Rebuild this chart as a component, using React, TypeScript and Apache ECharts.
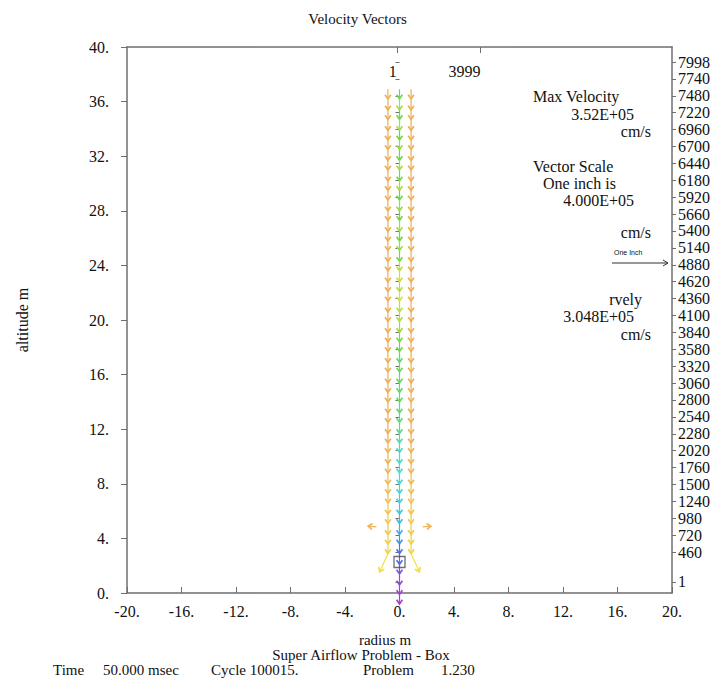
import { useEffect, useRef } from 'react';
import * as echarts from 'echarts';

const FONT = '"Liberation Serif", "Times New Roman", serif';

// Axis ticks
const leftTickInterval = 4;
const bottomTickInterval = 4;
const rightTickValues = [1, 460, 720, 980, 1240, 1500, 1760, 2020, 2280, 2540, 2800, 3060, 3320, 3580, 3840, 4100, 4360, 4620, 4880, 5140, 5400, 5660, 5920, 6180, 6440, 6700, 6960, 7220, 7480, 7740, 7998];
const topTickPositions = [-0.2, 5.95];
const topTickLabels = ['1', '3999'];

// Vector grid rows (altitude, m)
const rowAltitudes = [36.9, 36.2, 35.4, 34.7, 33.9, 33.2, 32.5, 31.7, 31.0, 30.2, 29.5, 28.8, 28.0, 27.3, 26.5, 25.8, 25.1, 24.3, 23.6, 22.8, 22.1, 21.4, 20.6, 19.9, 19.1, 18.4, 17.7, 16.9, 16.2, 15.4, 14.7, 14.0, 13.2, 12.5, 11.7, 11.0, 10.3, 9.5, 8.8, 8.0, 7.3, 6.6, 5.8, 5.1, 4.3, 3.6];
// Column radii (m)
const leftColumnX = -0.85;
const centerColumnX = 0;
const rightColumnX = 0.85;
// speeds (1e5 cm/s) per row
const centerSpeeds = [1.9, 1.65, 1.9, 1.65, 1.9, 1.7, 1.9, 1.65, 1.85, 1.65, 1.9, 1.7, 1.9, 1.65, 1.9, 1.7, 1.85, 1.55, 1.5, 1.6, 1.45, 1.55, 1.6, 1.7, 1.85, 1.9, 2.0, 1.95, 2.0, 2.05, 2.0, 2.1, 2.1, 2.15, 2.3, 2.35, 2.4, 2.4, 2.45, 2.45, 2.5, 2.55, 2.6, 2.65, 2.8, 2.95];
const sideSpeeds = [0.85, 0.85, 0.85, 0.85, 0.85, 0.85, 0.85, 0.85, 0.85, 0.85, 0.85, 0.85, 0.85, 0.85, 0.85, 0.85, 0.85, 0.85, 0.85, 0.85, 0.85, 0.85, 0.85, 0.85, 0.85, 0.85, 0.85, 0.85, 0.85, 0.85, 0.85, 0.85, 0.85, 0.85, 0.85, 0.88, 0.9, 0.9, 0.95, 1.0, 1.0, 1.05, 1.1, 1.1, 1.15, 1.2];
// center column continues below the grid rows
const centerTailAltitudes = [2.9, 2.1, 1.4, 0.6, -0.1, -0.8];
const centerTailSpeeds = [3.0, 3.3, 3.45, 3.5, 3.52];
const sideTailAltitude = 2.9;
// splaying vectors near the ground: [x, y, dx, dy, speed]
const extraVectors = [
  [-0.85, 2.9, -0.6, -1.35, 1.35],
  [0.85, 2.9, 0.6, -1.35, 1.35],
  [-1.7, 4.85, -0.6, 0.05, 0.9],
  [1.7, 4.85, 0.6, 0.05, 0.9],
];
// probe box
const probePoints = [[0, 2.27]];

function columnVectors(x: number, nodes: number[], speeds: number[]) {
  const out: number[][] = [];
  for (let i = 0; i < speeds.length; i++) {
    out.push([x, nodes[i], 0, nodes[i + 1] - nodes[i], speeds[i]]);
  }
  return out;
}

export default function App() {
  const ref = useRef<HTMLDivElement>(null);
  useEffect(() => {
    const chart = echarts.init(ref.current!, null, { renderer: 'svg' });
    const centerNodes = rowAltitudes.concat(centerTailAltitudes);
    const sideNodes = rowAltitudes.concat([sideTailAltitude]);
    const vectors = [
      ...columnVectors(leftColumnX, sideNodes, sideSpeeds),
      ...columnVectors(rightColumnX, sideNodes, sideSpeeds),
      ...columnVectors(centerColumnX, centerNodes, centerSpeeds.concat(centerTailSpeeds)),
      ...extraVectors,
    ];
    const axisLine = { show: true, onZero: false, lineStyle: { color: '#6f6f6f', width: 1.5 } };
    const labelStyle = { fontFamily: FONT, fontSize: 16, color: '#111' };
    const textEl = (text: string, x: number, y: number, align: string, size = 16, family = FONT) => ({
      type: 'text', x, y, silent: true,
      style: { text, fill: '#111', fontFamily: family, fontSize: size, textAlign: align, textVerticalAlign: 'middle' },
    });
    const option: any = {
      animation: false,
      backgroundColor: '#fff',
      title: {
        text: 'Velocity Vectors', left: 'center', top: 6,
        textStyle: { fontFamily: FONT, fontSize: 15, fontWeight: 'normal', color: '#111' },
      },
      grid: { left: 127, right: 43, top: 47, bottom: 89 },
      xAxis: [
        {
          type: 'value', min: -20, max: 20, interval: bottomTickInterval, position: 'bottom',
          axisLine, splitLine: { show: false },
          axisTick: { inside: true, length: 6, lineStyle: { color: '#6f6f6f' } },
          axisLabel: { ...labelStyle, margin: 10, formatter: (v: number) => `${v}.` },
          name: 'radius m', nameLocation: 'middle', nameGap: 39,
          nameTextStyle: { fontFamily: FONT, fontSize: 15, color: '#111', padding: [0, 29, 0, 0] },
        },
        {
          type: 'value', min: -20, max: 20, position: 'top',
          axisLine, splitLine: { show: false },
          axisTick: { inside: true, length: 6, customValues: topTickPositions, lineStyle: { color: '#6f6f6f' } },
          axisLabel: {
            ...labelStyle, inside: true, margin: 16, align: 'right', customValues: topTickPositions,
            formatter: (v: number) => {
              let best = 0;
              topTickPositions.forEach((p, i) => { if (Math.abs(p - v) < Math.abs(topTickPositions[best] - v)) best = i; });
              return topTickLabels[best];
            },
          },
        },
      ],
      yAxis: [
        {
          type: 'value', min: 0, max: 40, interval: leftTickInterval, position: 'left',
          axisLine, splitLine: { show: false },
          axisTick: { inside: false, length: 6, lineStyle: { color: '#6f6f6f' } },
          axisLabel: { ...labelStyle, margin: 18, formatter: (v: number) => `${v}.` },
          name: 'altitude m', nameLocation: 'middle', nameGap: 97, nameRotate: 90,
          nameTextStyle: { fontFamily: FONT, fontSize: 16, color: '#111' },
        },
        {
          type: 'value', min: -170, max: 8230, position: 'right',
          axisLine, splitLine: { show: false },
          axisTick: { inside: false, length: 4, customValues: rightTickValues, lineStyle: { color: '#6f6f6f' } },
          axisLabel: { ...labelStyle, margin: 6, customValues: rightTickValues, formatter: (v: number) => `${v}` },
        },
        {
          type: 'value', min: -170, max: 8230, position: 'right',
          axisLine: { show: false }, splitLine: { show: false },
          axisTick: { inside: true, length: 4, customValues: rightTickValues, lineStyle: { color: '#6f6f6f' } },
          axisLabel: { show: false },
        },
      ],
      visualMap: {
        type: 'continuous', show: false, seriesIndex: 0, dimension: 4, min: 0.8, max: 3.52,
        inRange: { color: ['#efa955', '#f1e23e', '#6fd845', '#3fdfd6', '#4a72e0', '#a540d6'] },
      },
      series: [
        {
          type: 'custom', xAxisIndex: 0, yAxisIndex: 0, clip: false,
          encode: { x: 0, y: 1 },
          data: vectors,
          renderItem: (params: any, api: any) => {
            const x = api.value(0), y = api.value(1), dx = api.value(2), dy = api.value(3);
            const p0 = api.coord([x, y]);
            const p1 = api.coord([x + dx, y + dy]);
            const color = api.visual('color');
            const ang = Math.atan2(p1[1] - p0[1], p1[0] - p0[0]);
            const h = 5, spread = 0.62;
            const a1 = [p1[0] - h * Math.cos(ang - spread), p1[1] - h * Math.sin(ang - spread)];
            const a2 = [p1[0] - h * Math.cos(ang + spread), p1[1] - h * Math.sin(ang + spread)];
            return {
              type: 'group',
              children: [
                { type: 'line', shape: { x1: p0[0], y1: p0[1], x2: p1[0], y2: p1[1] }, style: { stroke: color, lineWidth: 1.2 } },
                { type: 'polyline', shape: { points: [a1, p1, a2] }, style: { stroke: color, fill: null, lineWidth: 1.7 } },
              ],
            };
          },
        },
        {
          type: 'scatter', xAxisIndex: 0, yAxisIndex: 0, data: probePoints,
          symbol: 'rect', symbolSize: 11,
          itemStyle: { color: 'rgba(0,0,0,0)', borderColor: '#4a4a5a', borderWidth: 1.3 },
          z: 5,
        },
      ],
      graphic: [
        textEl('Max Velocity', 533, 96, 'left'),
        textEl('3.52E+05', 634, 114, 'right'),
        textEl('cm/s', 651, 131, 'right'),
        textEl('Vector Scale', 533, 166, 'left'),
        textEl('One inch is', 543, 183, 'left'),
        textEl('4.000E+05', 634, 200, 'right'),
        textEl('cm/s', 651, 232, 'right'),
        textEl('One Inch', 614, 252, 'left', 7, '"Liberation Sans", sans-serif'),
        { type: 'line', shape: { x1: 612, y1: 263, x2: 668, y2: 263 }, style: { stroke: '#333', lineWidth: 1 } },
        { type: 'polyline', shape: { points: [[663, 260], [668, 263], [663, 266]] }, style: { stroke: '#333', fill: null, lineWidth: 1 } },
        textEl('rvely', 642, 299, 'right'),
        textEl('3.048E+05', 634, 316, 'right'),
        textEl('cm/s', 651, 334, 'right'),
        textEl('Super Airflow Problem - Box', 361, 655, 'center', 15),
        textEl('Time', 53, 670, 'left', 15),
        textEl('50.000 msec', 103, 670, 'left', 15),
        textEl('Cycle 100015.', 211, 670, 'left', 15),
        textEl('Problem', 363, 670, 'left', 15),
        textEl('1.230', 441, 670, 'left', 15),
      ],
    };
    chart.setOption(option);
    return () => chart.dispose();
  }, []);
  return <div ref={ref} style={{ position: 'fixed', left: 0, top: 0, width: 715, height: 682, background: '#fff' }} />;
}
